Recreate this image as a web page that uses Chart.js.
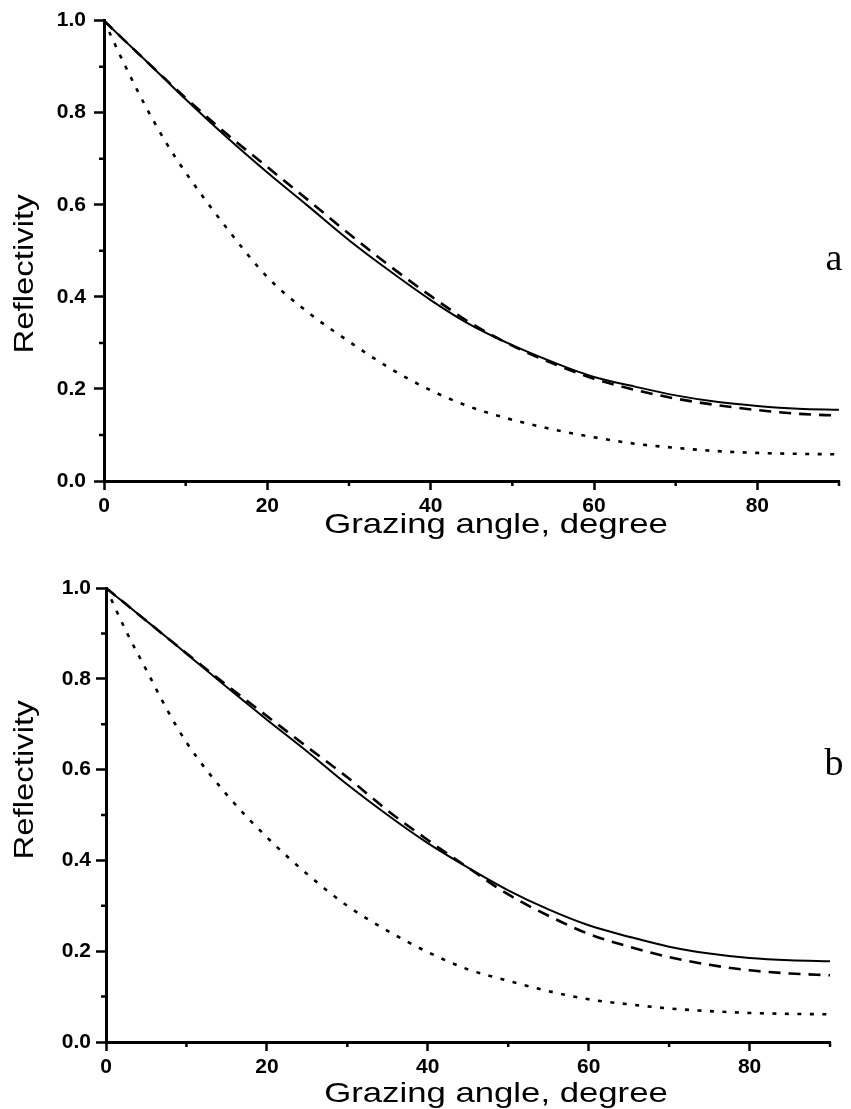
<!DOCTYPE html>
<html>
<head>
<meta charset="utf-8">
<script src="https://cdn.jsdelivr.net/npm/chart.js@4/dist/chart.umd.min.js"></script>
<style>
  html, body { margin: 0; padding: 0; background: #fff; }
  .panel { position: absolute; left: 0; width: 851px; }
  #panelA { top: 0; height: 555px; }
  #panelB { top: 555px; height: 554px; }
</style>
</head>
<body>
<div class="panel" id="panelA"><canvas id="chartA" width="851" height="555"></canvas></div>
<div class="panel" id="panelB"><canvas id="chartB" width="851" height="554"></canvas></div>
<script>
// grazing angle, degree
const angles = [0, 2.5, 5, 7.5, 10, 15, 20, 25, 30, 35, 40, 45, 50, 55, 60, 65, 70, 75, 80, 85, 90];

// panel a
const aSolid  = [1.0, 0.957, 0.915, 0.872, 0.829, 0.747, 0.670, 0.597, 0.523, 0.456, 0.393, 0.338, 0.295, 0.258, 0.226, 0.205, 0.186, 0.172, 0.163, 0.157, 0.155];
const aDashed = [1.0, 0.957, 0.915, 0.873, 0.832, 0.754, 0.682, 0.610, 0.537, 0.467, 0.402, 0.342, 0.294, 0.255, 0.222, 0.198, 0.179, 0.165, 0.154, 0.146, 0.142];
const aDotted = [1.0, 0.905, 0.817, 0.738, 0.670, 0.550, 0.443, 0.366, 0.303, 0.245, 0.197, 0.160, 0.133, 0.112, 0.095, 0.081, 0.072, 0.065, 0.061, 0.059, 0.058];

// panel b
const bSolid  = [1.0, 0.964, 0.928, 0.892, 0.855, 0.782, 0.710, 0.640, 0.567, 0.500, 0.438, 0.384, 0.334, 0.292, 0.257, 0.232, 0.210, 0.195, 0.185, 0.180, 0.178];
const bDashed = [1.0, 0.964, 0.928, 0.892, 0.856, 0.786, 0.718, 0.650, 0.583, 0.510, 0.445, 0.384, 0.325, 0.278, 0.238, 0.210, 0.187, 0.170, 0.158, 0.151, 0.147];
const bDotted = [1.0, 0.905, 0.820, 0.735, 0.660, 0.545, 0.451, 0.370, 0.300, 0.245, 0.198, 0.160, 0.135, 0.112, 0.094, 0.083, 0.074, 0.068, 0.064, 0.062, 0.061];

const xMajorStep = 20;
const yMajorStep = 0.2;
const xMinorTicks = [10, 30, 50, 70, 90];
const yMinorTicks = [0.1, 0.3, 0.5, 0.7, 0.9];

const sansFont = '"Liberation Sans", Arial, sans-serif';
const serifFont = '"Liberation Serif", "Times New Roman", serif';

const toPoints = (vals) => angles.map((a, i) => ({ x: a, y: vals[i] }));

// the figure's lettering is a wide sans, so stretch it a bit
function stretchedText(ctx, text, cx, cy, angle, sx) {
  ctx.save();
  ctx.translate(cx, cy);
  ctx.rotate(angle);
  ctx.scale(sx, 1);
  ctx.fillText(text, 0, 0);
  ctx.restore();
}

// minor ticks, axis titles and the panel letter
const decorPlugin = {
  id: 'decor',
  afterDraw(chart, args, opts) {
    const { ctx, chartArea, scales: { x, y } } = chart;
    ctx.save();
    ctx.strokeStyle = '#000';
    ctx.lineWidth = 2.5;
    ctx.beginPath();
    xMinorTicks.forEach(v => {
      const px = x.getPixelForValue(v);
      ctx.moveTo(px, chartArea.bottom);
      ctx.lineTo(px, chartArea.bottom + 5);
    });
    yMinorTicks.forEach(v => {
      const py = y.getPixelForValue(v);
      ctx.moveTo(chartArea.left, py);
      ctx.lineTo(chartArea.left - 5, py);
    });
    ctx.stroke();

    ctx.fillStyle = '#000';
    ctx.textAlign = 'center';
    ctx.textBaseline = 'middle';
    ctx.font = '28px ' + sansFont;
    stretchedText(ctx, 'Grazing angle, degree', opts.xTitle[0], opts.xTitle[1], 0, 1.24);
    ctx.font = '27px ' + sansFont;
    stretchedText(ctx, 'Reflectivity', opts.yTitle[0], opts.yTitle[1], -Math.PI / 2, 1.22);

    ctx.font = '38px ' + serifFont;
    ctx.fillText(opts.letter, opts.letterPos[0], opts.letterPos[1]);
    ctx.restore();
  }
};

function makeChart(id, solid, dashed, dotted, layout, decor) {
  return new Chart(document.getElementById(id), {
    type: 'line',
    data: {
      datasets: [
        { data: toPoints(solid), borderColor: '#000', borderWidth: 2, pointRadius: 0, cubicInterpolationMode: 'monotone' },
        { data: toPoints(dashed), borderColor: '#000', borderWidth: 2.6, borderDash: [12, 8], pointRadius: 0, cubicInterpolationMode: 'monotone' },
        { data: toPoints(dotted), borderColor: '#000', borderWidth: 2.6, borderDash: [4, 8.5], pointRadius: 0, cubicInterpolationMode: 'monotone' }
      ]
    },
    options: {
      responsive: false,
      animation: false,
      layout: { padding: { top: layout.top, right: layout.right, bottom: 0, left: 0 } },
      plugins: { legend: { display: false }, tooltip: { enabled: false }, decor: decor },
      scales: {
        x: {
          type: 'linear', min: 0, max: 90,
          afterFit: (scale) => { scale.height = layout.xHeight; },
          // 90 is only a minor tick in the figure
          afterBuildTicks: (scale) => { scale.ticks = scale.ticks.filter(t => t.value % xMajorStep === 0); },
          border: { display: true, color: '#000', width: 3 },
          grid: { drawOnChartArea: false, drawTicks: true, tickLength: 9, tickWidth: 2.5, tickColor: '#000' },
          ticks: { stepSize: xMajorStep, color: '#000', padding: 4, maxRotation: 0, font: { family: sansFont, size: 21, weight: 'bold' } }
        },
        y: {
          min: 0, max: 1,
          afterFit: (scale) => { scale.width = layout.left; },
          border: { display: true, color: '#000', width: 3 },
          grid: { drawOnChartArea: false, drawTicks: true, tickLength: 10, tickWidth: 2.5, tickColor: '#000' },
          ticks: { stepSize: yMajorStep, color: '#000', padding: layout.yPad, font: { family: sansFont, size: 21, weight: 'bold' },
            callback: (v) => v.toFixed(1) }
        }
      }
    },
    plugins: [decorPlugin]
  });
}

makeChart('chartA', aSolid, aDashed, aDotted,
  { top: 20, right: 12, left: 104, xHeight: 74, yPad: 8 },
  { xTitle: [496, 525], yTitle: [26, 274], letter: 'a', letterPos: [834, 260] });

makeChart('chartB', bSolid, bDashed, bDotted,
  { top: 33, right: 21, left: 106, xHeight: 67, yPad: 5 },
  { xTitle: [496, 539], yTitle: [26, 225], letter: 'b', letterPos: [834, 210] });
</script>
</body>
</html>
